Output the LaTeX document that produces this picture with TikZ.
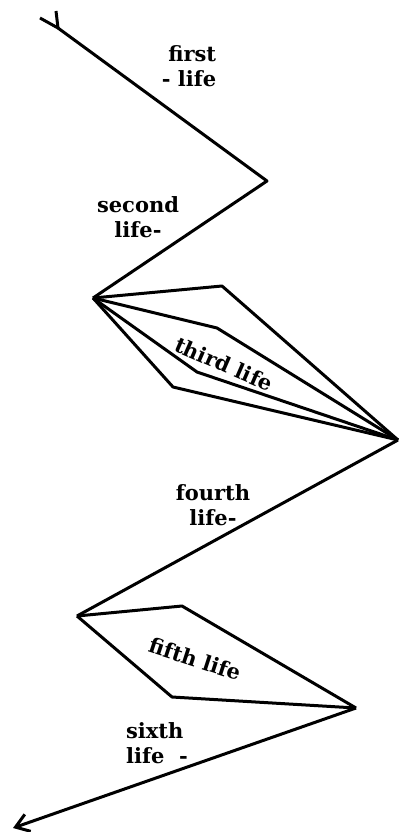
\documentclass[tikz,border=0pt]{standalone}
\usepackage{fontspec}
\setmainfont{DejaVu Serif}
\usetikzlibrary{arrows.meta}

\begin{document}
\begin{tikzpicture}[x=1pt,y=-1pt,line width=3pt,line join=round,
  lbl/.style={font=\fontsize{21}{25}\selectfont\bfseries,inner sep=0pt}]
\useasboundingbox (0,0) rectangle (400,832);
% turning points of the path
\coordinate (A) at (58,28);
\coordinate (B) at (267,181);
\coordinate (C) at (93,298);
\coordinate (D) at (398,440);
\coordinate (E) at (77,616);
\coordinate (F) at (356,708);
\coordinate (G) at (13,828);
% tail at the start
\coordinate (T1) at (40,18);
\coordinate (T2) at (56,11);
% bends of the third and fifth life
\coordinate (P1) at (222,286);
\coordinate (P2) at (217,328);
\coordinate (P3) at (197,372);
\coordinate (P4) at (173,387);
\coordinate (Q1) at (182,606);
\coordinate (Q2) at (172,697);
\draw (T1)--(A)--(T2);
\draw (A)--(B)--(C);
\foreach \p in {P1,P2,P3,P4}
  {\draw (C)--(\p)--(D);}
\draw (D)--(E);
\draw (E)--(Q1)--(F);
\draw (E)--(Q2)--(F);
\draw[-{Straight Barb[length=13pt,width=18pt]}] (F)--(G);
\node[lbl,align=right] (first) at (189,66) {first\\- life};
\node[lbl,align=center] (second) at (138,217) {second\\life-};
\node[lbl,rotate=-23.5] (third) at (224,364) {third life};
\node[lbl,align=center] (fourth) at (213,505) {fourth\\life-};
\node[lbl,rotate=-18] (fifth) at (195,659) {fifth life};
\node[lbl,align=left] (sixth) at (157,743) {sixth\\life \ -};
\end{tikzpicture}
\end{document}
